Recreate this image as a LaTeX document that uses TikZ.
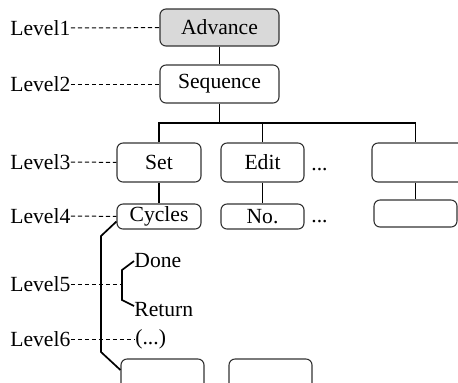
\documentclass[tikz,border=0pt]{standalone}
\usepackage{fontspec}
\setmainfont{Liberation Serif}
\usetikzlibrary{positioning}
\definecolor{rootBg}{RGB}{217, 217, 217}
\definecolor{boxLine}{RGB}{50, 50, 50}

\begin{document}
\begin{tikzpicture}[x=0.5pt, y=-0.5pt, font=\fontsize{10.8}{12}\selectfont,
  levelbox/.style={draw=boxLine, line width=0.55pt, rounded corners=3pt, inner sep=0pt},
  levellabel/.style={anchor=west, inner sep=0pt},
  guide/.style={line width=0.5pt, dash pattern=on 2.2pt off 1.3pt},
  link/.style={line width=0.85pt},
  every node/.style={align=center}]
  \useasboundingbox (0,0) rectangle (458,382);
  \clip (0,0) rectangle (458,382);

  % tree boxes
  \node[levelbox, fill=rootBg, minimum width=59.5pt, minimum height=18.5pt] (advance) at (219.5,27.5) {Advance};
  \node[levelbox, minimum width=59.5pt, minimum height=19pt] (sequence) at (219.5,84) {Sequence};
  \node[levelbox, minimum width=42pt, minimum height=19.5pt] (set) at (159,162.5) {Set};
  \node[levelbox, minimum width=41.5pt, minimum height=19.5pt] (edit) at (262.5,162.5) {Edit};
  \node[levelbox, minimum width=64pt, minimum height=19.5pt] (right3) at (436,162.5) {};
  \node[levelbox, minimum width=42pt, minimum height=12.5pt] (cycles) at (159,216.5) {Cycles};
  \node[levelbox, minimum width=41.5pt, minimum height=12.5pt] (no) at (262.5,216.5) {No.};
  \node[levelbox, minimum width=41.5pt, minimum height=13.5pt] (right4) at (415.5,213.5) {};
  \node[levelbox, minimum width=41.5pt, minimum height=23pt] (low1) at (162.5,382) {};
  \node[levelbox, minimum width=41.5pt, minimum height=23pt] (low2) at (270.5,382) {};

  \node[anchor=base west, inner sep=0pt] (editmore) at (311,170) {...};
  \node[anchor=base west, inner sep=0pt] (nomore) at (311,222) {...};

  % level labels
  \node[levellabel] (lv1) at (10,28) {Level1};
  \node[levellabel] (lv2) at (10,84) {Level2};
  \node[levellabel] (lv3) at (10,162) {Level3};
  \node[levellabel] (lv4) at (10,216) {Level4};
  \node[levellabel] (lv5) at (10,284) {Level5};
  \node[levellabel] (lv6) at (10,339) {Level6};

  \node[levellabel] (done) at (134,261) {Done};
  \node[levellabel] (return) at (134,310) {Return};
  \node[levellabel] (more) at (135,339) {(...)};

  % connectors
  \coordinate (bus) at (219.5,123);
  \coordinate (rtop) at (right4.north |- right3.north);
  \draw[link] (advance) -- (sequence);
  \draw[link] (sequence.south) -- (bus);
  \draw[link] (set.north) |- (bus) -| (rtop);
  \draw[link] (edit.north) -- (edit.north |- bus);
  \draw[link] (set) -- (cycles);
  \draw[link] (edit) -- (no);
  \draw[link] (right4.north |- right3.south) -- (right4.north);

  \coordinate (spinetop) at (101,236);
  \coordinate (spinebot) at (101,352);
  \draw[link] ([yshift=-2.5pt]cycles.west) -- (spinetop) -- (spinebot) -- ([yshift=6pt]low1.west);

  \coordinate (fork) at (122,284);
  \draw[link] (done.west) -- (122,270) -- (122,300) -- ([yshift=2pt]return.west);

  % dashed guides
  \draw[guide] (lv1) -- (advance);
  \draw[guide] (lv2) -- (sequence);
  \draw[guide] (lv3) -- (set);
  \draw[guide] (lv4) -- (cycles);
  \draw[guide] (lv5) -- (fork);
  \draw[guide] (lv6) -- (more);
\end{tikzpicture}
\end{document}
